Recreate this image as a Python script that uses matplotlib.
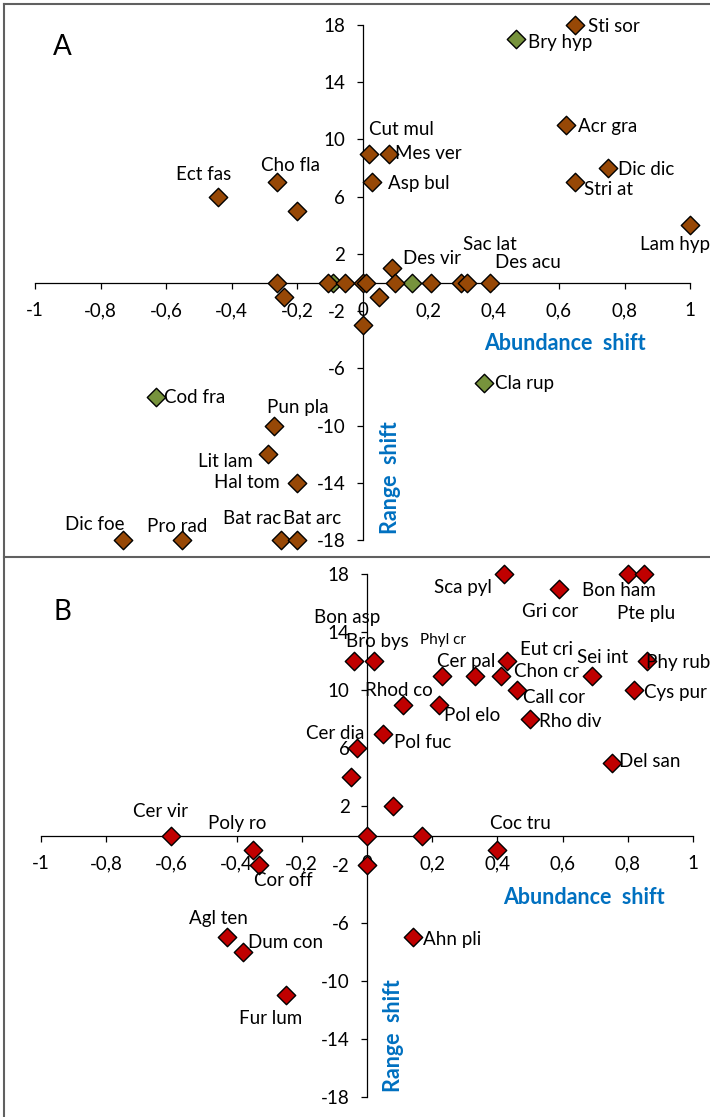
import numpy as np
import matplotlib
matplotlib.use("Agg")
import matplotlib.pyplot as plt
from matplotlib.lines import Line2D
from matplotlib.ticker import FixedLocator, FuncFormatter

plt.rcParams['font.family'] = ['Lato', 'DejaVu Sans']

## Panel A data (abundance shift, range shift)
a_brown_names = ['Sti sor', 'Acr gra', 'Dic dic', 'Stri at', 'Lam hyp', 'Cut mul', 'Mes ver',
                 'Asp bul', 'Ect fas', 'Cho fla', '', '',
                 '', '', '', '', '', '', '', '', '', 'Des vir', '', 'Sac lat', 'Des acu',
                 'Pun pla', 'Lit lam', 'Hal tom', 'Dic foe', 'Pro rad', 'Bat rac', 'Bat arc']
a_brown_x = [0.65, 0.62, 0.75, 0.65, 1.0, 0.02, 0.08,
             0.03, -0.44, -0.26, -0.2, 0.09,
             -0.26, -0.24, -0.105, -0.053, 0.0, 0.01, 0.0, 0.05, 0.1, 0.21, 0.3, 0.32, 0.39,
             -0.27, -0.29, -0.2, -0.73, -0.55, -0.25, -0.2]
a_brown_y = [18, 11, 8, 7, 4, 9, 9,
             7, 6, 7, 5, 1,
             0, -1, 0, 0, 0, 0, -3, -1, 0, 0, 0, 0, 0,
             -10, -12, -14, -18, -18, -18, -18]

a_green_names = ['Bry hyp', 'Cod fra', 'Cla rup', '', '']
a_green_x = [0.47, -0.63, 0.37, 0.15, -0.09]
a_green_y = [17, -8, -7, 0, 0]

## Panel B data
b_names = ['Sca pyl', 'Gri cor', 'Bon ham', 'Pte plu', 'Bon asp', 'Bro bys', 'Phyl cr', 'Cer pal',
           'Eut cri', 'Chon cr', 'Call cor', 'Sei int', 'Phy rub', 'Cys pur', 'Rhod co', 'Pol elo',
           'Rho div', 'Pol fuc', 'Cer dia', '', '', 'Del san', '', '', '', 'Coc tru',
           'Ahn pli', 'Cer vir', 'Poly ro', 'Cor off', 'Agl ten', 'Dum con', 'Fur lum']
b_x = [0.42, 0.59, 0.8, 0.85, -0.04, 0.02, 0.23, 0.33,
       0.43, 0.41, 0.46, 0.69, 0.86, 0.82, 0.11, 0.22,
       0.5, 0.05, -0.03, -0.05, 0.08, 0.75, 0.0, 0.17, 0.0, 0.4,
       0.14, -0.6, -0.35, -0.33, -0.43, -0.38, -0.25]
b_y = [18, 17, 18, 18, 12, 12, 11, 11,
       12, 11, 10, 11, 12, 10, 9, 9,
       8, 7, 6, 4, 2, 5, 0, 0, -2, -1,
       -7, 0, -1, -2, -7, -8, -11]

xticks = [-1, -0.8, -0.6, -0.4, -0.2, 0, 0.2, 0.4, 0.6, 0.8, 1]
yticks = [-18, -14, -10, -6, -2, 2, 6, 10, 14, 18]

# label offsets from marker, in pixels (right, down)
label_offsets = {
    'Sti sor': (38, 1), 'Bry hyp': (44, 3), 'Acr gra': (42, 1), 'Dic dic': (38, 1),
    'Stri at': (33, 7), 'Lam hyp': (-15, 19), 'Cut mul': (32, -24), 'Mes ver': (40, 0),
    'Asp bul': (46, 1), 'Ect fas': (-15, -22), 'Cho fla': (13, -17), 'Des vir': (1, -24),
    'Sac lat': (23, -38), 'Des acu': (38, -20), 'Cod fra': (38, 1), 'Cla rup': (41, 1),
    'Pun pla': (24, -18), 'Lit lam': (-42, 7), 'Hal tom': (-50, 0), 'Dic foe': (-29, -15),
    'Pro rad': (-5, -14), 'Bat rac': (-29, -21), 'Bat arc': (15, -21),
    'Sca pyl': (-41, 13), 'Gri cor': (-9, 23), 'Bon ham': (-9, 16), 'Pte plu': (2, 40),
    'Bon asp': (-7, -44), 'Bro bys': (4, -20), 'Phyl cr': (1, -36), 'Cer pal': (-8, -14),
    'Eut cri': (39, -12), 'Chon cr': (46, -4), 'Call cor': (37, 7), 'Sei int': (11, -18),
    'Phy rub': (31, 1), 'Cys pur': (41, 2), 'Rhod co': (-4, -14), 'Pol elo': (33, 11),
    'Rho div': (40, 2), 'Pol fuc': (39, 9), 'Cer dia': (-22, -15), 'Del san': (38, -1),
    'Coc tru': (23, -27), 'Ahn pli': (39, 2), 'Cer vir': (-11, -24), 'Poly ro': (-16, -27),
    'Cor off': (24, 16), 'Agl ten': (-8, -19), 'Dum con': (42, -9), 'Fur lum': (-15, 23),
}

W, H = 710, 1117
fig = plt.figure(figsize=(W / 100, H / 100), dpi=100, facecolor='white')

blue = '#0070C0'
brown = '#974806'
green = '#77933C'
red = '#C00000'


def fmt(v, pos):
    return f"{v:g}".replace('.', ',')


def setup_axes(ax):
    ax.set_xlim(-1, 1)
    ax.set_ylim(-18, 18)
    ax.patch.set_alpha(0)
    for s in ['top', 'right']:
        ax.spines[s].set_visible(False)
    ax.spines['left'].set_position(('data', 0))
    ax.spines['bottom'].set_position(('data', 0))
    for s in ['left', 'bottom']:
        ax.spines[s].set_linewidth(0.9)
        ax.spines[s].set_color('black')
    ax.xaxis.set_major_locator(FixedLocator(xticks))
    ax.yaxis.set_major_locator(FixedLocator(yticks))
    ax.xaxis.set_major_formatter(FuncFormatter(fmt))
    ax.yaxis.set_major_formatter(FuncFormatter(fmt))
    ax.tick_params(axis='x', direction='out', length=4.5, width=0.9, pad=9.5, labelsize=13.5)
    ax.tick_params(axis='y', direction='out', length=4.5, width=0.9, pad=8, labelsize=13.5)


def draw_points(ax, xs, ys, names, color):
    ax.scatter(xs, ys, marker='D', s=88, facecolor=color, edgecolor='black',
               linewidth=1.0, zorder=3, clip_on=False)
    for x, y, n in zip(xs, ys, names):
        if not n:
            continue
        dx, dy = label_offsets[n]
        size = 11 if n == 'Phyl cr' else 13.5
        ax.annotate(n, (x, y), xytext=(dx, -dy), textcoords='offset pixels',
                    ha='center', va='center', fontsize=size, color='black', zorder=4)


# panel A
axA = fig.add_axes([35 / W, 1 - 540 / H, 655 / W, 515 / H])
setup_axes(axA)
draw_points(axA, a_green_x, a_green_y, a_green_names, green)
draw_points(axA, a_brown_x, a_brown_y, a_brown_names, brown)

# panel B
axB = fig.add_axes([41 / W, 1 - 1097 / H, 652 / W, 523 / H])
setup_axes(axB)
draw_points(axB, b_x, b_y, b_names, red)

# axis titles and panel letters
fig.text(565 / W, 1 - 343 / H, 'Abundance  shift', color=blue, fontsize=15.5,
         fontweight='bold', ha='center', va='center')
fig.text(390 / W, 1 - 478 / H, 'Range  shift', color=blue, fontsize=15.5,
         fontweight='bold', ha='center', va='center', rotation=90)
fig.text(584 / W, 1 - 898 / H, 'Abundance  shift', color=blue, fontsize=15.5,
         fontweight='bold', ha='center', va='center')
fig.text(393 / W, 1 - 1036 / H, 'Range  shift', color=blue, fontsize=15.5,
         fontweight='bold', ha='center', va='center', rotation=90)
fig.text(62 / W, 1 - 47 / H, 'A', fontsize=20, ha='center', va='center')
fig.text(62 / W, 1 - 612 / H, 'B', fontsize=20, ha='center', va='center')

# panel frames
frame = '#606060'
fig.add_artist(Line2D([3.5 / W, 3.5 / W], [0, 1 - 4 / H], color=frame, lw=1.5))
fig.add_artist(Line2D([3.5 / W, 1], [1 - 4 / H, 1 - 4 / H], color=frame, lw=1.5))
fig.add_artist(Line2D([3.5 / W, 1], [1 - 557 / H, 1 - 557 / H], color=frame, lw=1.5))

fig.savefig('out.png', dpi=100, facecolor='white')
